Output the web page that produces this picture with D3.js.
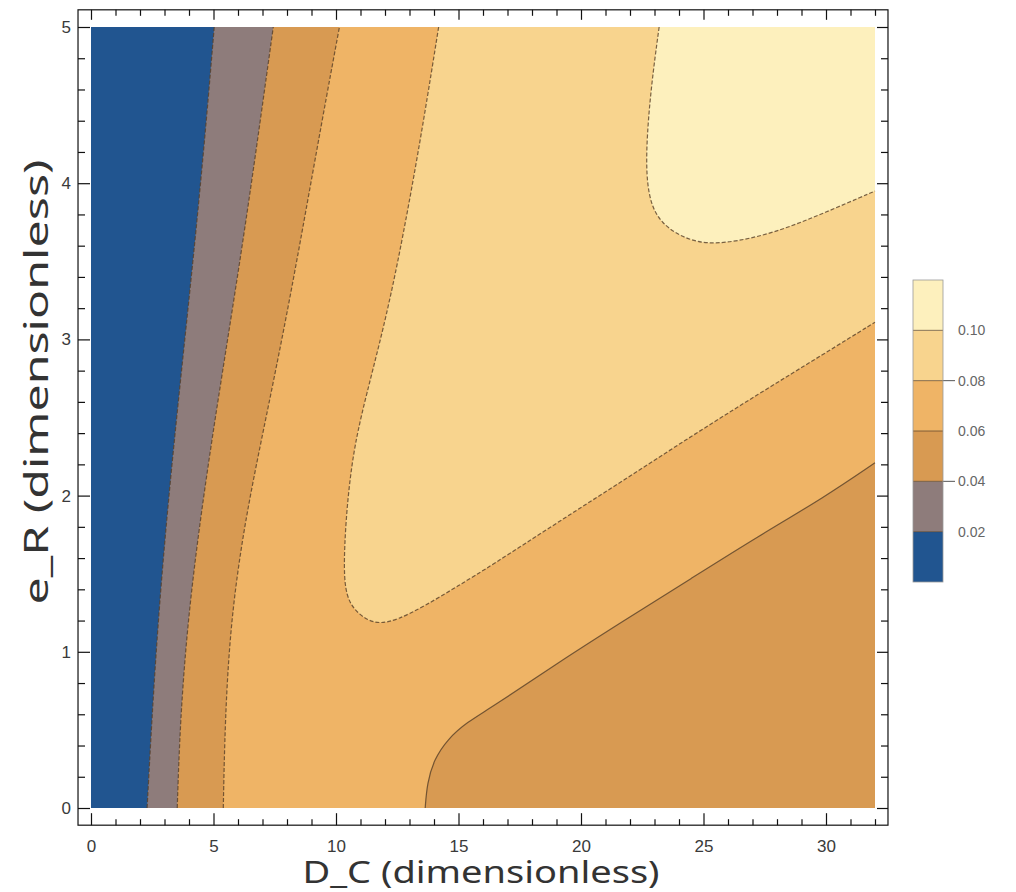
<!DOCTYPE html>
<html>
<head>
<meta charset="utf-8">
<script src="https://cdn.jsdelivr.net/npm/d3@7"></script>
<style>
  body { margin: 0; background: #fff; }
  svg { display: block; }
</style>
</head>
<body>
<svg id="chart" width="1016" height="892"></svg>
<script>
// Contour levels and the fill colour of each band between them (lowest first)
const contourLevels = [0.02, 0.04, 0.06, 0.08, 0.10];
const levelLabels = ["0.02", "0.04", "0.06", "0.08", "0.10"];
const bandColors = ["#215590", "#8e7c7b", "#d89a52", "#efb466", "#f8d48e", "#fdf0bd"];
const legendTickLevels = [0.04, 0.08];

// Axis ticks
const xMajorTicks = [0, 5, 10, 15, 20, 25, 30];
const xTickLabels = ["0", "5", "10", "15", "20", "25", "30"];
const yMajorTicks = [0, 1, 2, 3, 4, 5];
const yTickLabels = ["0", "1", "2", "3", "4", "5"];

// Iso-lines, as [D_C, e_R] pairs
const contour002 = [[2.29,0],[2.48,0.56],[2.74,1.2],[3.08,1.84],[3.48,2.48],[3.91,3.12],[4.33,3.76],[4.71,4.4],[5.03,5]];
const contour004 = [[3.52,0],[3.64,0.56],[3.95,1.2],[4.45,1.84],[5.05,2.48],[5.70,3.12],[6.33,3.76],[6.91,4.4],[7.44,5]];
const contour006Left = [[5.40,0],[5.47,0.56],[5.70,1.2],[6.28,1.84],[7.12,2.48],[7.95,3.12],[8.70,3.76],[9.43,4.4],[10.14,5]];
const contour006Right = [[13.64,0],[13.72,0.16],[14.0,0.31],[14.55,0.44],[15.35,0.55],[16.32,0.64],[19.06,0.93],[21.76,1.2],[24.5,1.47],[27.24,1.74],[29.94,1.99],[32,2.21]];
const contour008 = [[14.19,5],[13.58,4.4],[12.86,3.76],[12.04,3.12],[10.95,2.48],[10.6,2.16],[10.4,1.84],[10.31,1.52],[10.42,1.36],[10.73,1.27],[11.28,1.2],[11.82,1.18],[12.5,1.205],[13.59,1.29],[14.96,1.42],[16.32,1.55],[19.06,1.83],[21.76,2.1],[24.5,2.38],[27.24,2.65],[29.94,2.91],[32,3.11]];
const contour010 = [[23.19,5],[22.86,4.62],[22.64,4.2],[22.72,3.92],[23.2,3.74],[24.5,3.62],[25.85,3.61],[27.89,3.68],[29.94,3.81],[32,3.95]];

const xDomain = [0, 32];
const yDomain = [0, 5];

const svg = d3.select("#chart");

const x = d3.scaleLinear().domain(xDomain).range([91, 875]);
const y = d3.scaleLinear().domain(yDomain).range([808, 27]);

// Frame extends a little beyond the data range
const padX = 0.53, padY = 0.11;
const frame = {
  left: x(xDomain[0] - padX), right: x(xDomain[1] + padX),
  top: y(yDomain[1] + padY), bottom: y(yDomain[0] - padY)
};

const curve = d3.line().x(d => x(d[0])).y(d => y(d[1])).curve(d3.curveBasis);

// Filled area bounded by an iso-line and a run of plot corners
function region(pts, corners) {
  return curve(pts) + corners.map(c => "L" + x(c[0]) + "," + y(c[1])).join("") + "Z";
}

const plot = svg.append("g");

// Base band (0.06–0.08) covers the whole domain
plot.append("rect")
  .attr("x", x(xDomain[0])).attr("y", y(yDomain[1]))
  .attr("width", x(xDomain[1]) - x(xDomain[0]))
  .attr("height", y(yDomain[0]) - y(yDomain[1]))
  .attr("fill", bandColors[3]);

const leftCorners = [[xDomain[0], yDomain[1]], [xDomain[0], yDomain[0]]];
const fills = [
  { pts: contour006Left, corners: leftCorners, band: 2 },
  { pts: contour004, corners: leftCorners, band: 1 },
  { pts: contour002, corners: leftCorners, band: 0 },
  { pts: contour008, corners: [[xDomain[1], yDomain[1]]], band: 4 },
  { pts: contour010, corners: [[xDomain[1], yDomain[1]]], band: 5 },
  { pts: contour006Right, corners: [[xDomain[1], yDomain[0]]], band: 2 }
];

plot.selectAll("path.band").data(fills).join("path")
  .attr("class", "band")
  .attr("d", d => region(d.pts, d.corners))
  .attr("fill", d => bandColors[d.band]);

// Iso-lines
const lines = [
  { pts: contour002, dash: "4,2" },
  { pts: contour004, dash: "4,2" },
  { pts: contour006Left, dash: "4,2" },
  { pts: contour008, dash: "4,2" },
  { pts: contour010, dash: "4,2" },
  { pts: contour006Right, dash: null }
];
plot.selectAll("path.iso").data(lines).join("path")
  .attr("class", "iso")
  .attr("d", d => curve(d.pts))
  .attr("fill", "none")
  .attr("stroke", "#574028")
  .attr("stroke-opacity", 0.8)
  .attr("stroke-width", 1.2)
  .attr("stroke-dasharray", d => d.dash);

// Frame
svg.append("rect")
  .attr("x", frame.left).attr("y", frame.top)
  .attr("width", frame.right - frame.left)
  .attr("height", frame.bottom - frame.top)
  .attr("fill", "none").attr("stroke", "#111").attr("stroke-width", 1.2);

// Ticks pointing inward on all four sides
const xMinor = d3.range(xDomain[0], xDomain[1] + 1, 1).filter(v => v % 5 !== 0);
const yMinor = d3.range(1, 26, 1).map(v => v / 5).filter(v => Math.abs(v - Math.round(v)) > 1e-6);

function styleAxis(g) {
  g.select(".domain").remove();
  g.selectAll(".tick line").attr("stroke", "#111").attr("stroke-width", 1.2);
  g.selectAll(".tick text")
    .attr("font-family", "'Liberation Sans', Arial, sans-serif")
    .attr("font-size", 17).attr("fill", "#3a3a3a");
}

const fmtX = (d) => xTickLabels[xMajorTicks.indexOf(d)];
const fmtY = (d) => yTickLabels[yMajorTicks.indexOf(d)];

svg.append("g").attr("transform", `translate(0,${frame.bottom})`)
  .call(d3.axisBottom(x).tickValues(xMajorTicks).tickSize(-12).tickPadding(15).tickFormat(fmtX))
  .call(styleAxis);
svg.append("g").attr("transform", `translate(0,${frame.bottom})`)
  .call(d3.axisBottom(x).tickValues(xMinor).tickSize(-6).tickFormat(""))
  .call(styleAxis);
svg.append("g").attr("transform", `translate(0,${frame.top})`)
  .call(d3.axisTop(x).tickValues(xMajorTicks).tickSize(-10).tickFormat(""))
  .call(styleAxis);
svg.append("g").attr("transform", `translate(0,${frame.top})`)
  .call(d3.axisTop(x).tickValues(xMinor).tickSize(-6).tickFormat(""))
  .call(styleAxis);

svg.append("g").attr("transform", `translate(${frame.left},0)`)
  .call(d3.axisLeft(y).tickValues(yMajorTicks).tickSize(-12).tickPadding(7).tickFormat(fmtY))
  .call(styleAxis);
svg.append("g").attr("transform", `translate(${frame.left},0)`)
  .call(d3.axisLeft(y).tickValues(yMinor).tickSize(-7).tickFormat(""))
  .call(styleAxis);
svg.append("g").attr("transform", `translate(${frame.right},0)`)
  .call(d3.axisRight(y).tickValues(yMajorTicks).tickSize(-11).tickFormat(""))
  .call(styleAxis);
svg.append("g").attr("transform", `translate(${frame.right},0)`)
  .call(d3.axisRight(y).tickValues(yMinor).tickSize(-7).tickFormat(""))
  .call(styleAxis);

// Axis titles
const titleFont = "'Noto Sans', 'Open Sans', sans-serif";
svg.append("text")
  .attr("x", 481).attr("y", 883)
  .attr("text-anchor", "middle")
  .attr("font-family", titleFont).attr("font-size", 31)
  .attr("textLength", 357).attr("lengthAdjust", "spacingAndGlyphs")
  .attr("fill", "#333")
  .text("D_C (dimensionless)");
svg.append("text")
  .attr("transform", `translate(48,382) rotate(-90)`)
  .attr("text-anchor", "middle")
  .attr("font-family", titleFont).attr("font-size", 33)
  .attr("textLength", 445).attr("lengthAdjust", "spacingAndGlyphs")
  .attr("fill", "#333")
  .text("e_R (dimensionless)");

// Colour bar legend
const legendScale = d3.scaleLinear().domain([0, 0.12]).range([582, 280]);
const bandEdges = [0, ...contourLevels, 0.12];
const legend = svg.append("g");
const barX = 913, barW = 30;
legend.selectAll("rect.swatch").data(bandColors).join("rect")
  .attr("class", "swatch")
  .attr("x", barX).attr("width", barW)
  .attr("y", (d, i) => legendScale(bandEdges[i + 1]))
  .attr("height", (d, i) => legendScale(bandEdges[i]) - legendScale(bandEdges[i + 1]))
  .attr("fill", d => d);
legend.selectAll("line.edge").data(contourLevels).join("line")
  .attr("class", "edge")
  .attr("x1", barX).attr("x2", barX + barW)
  .attr("y1", d => legendScale(d)).attr("y2", d => legendScale(d))
  .attr("stroke", "#574028").attr("stroke-opacity", 0.7).attr("stroke-width", 1);
legend.selectAll("line.tick").data(legendTickLevels).join("line")
  .attr("class", "tick")
  .attr("x1", barX + barW).attr("x2", barX + barW + 12)
  .attr("y1", d => legendScale(d)).attr("y2", d => legendScale(d))
  .attr("stroke", "#555").attr("stroke-width", 1);
legend.append("rect")
  .attr("x", barX).attr("y", legendScale(0.12))
  .attr("width", barW).attr("height", legendScale(0) - legendScale(0.12))
  .attr("fill", "none").attr("stroke", "#999").attr("stroke-width", 0.8);
legend.selectAll("text").data(contourLevels).join("text")
  .attr("x", 958).attr("y", d => legendScale(d) + 5)
  .attr("font-family", "'Liberation Sans', Arial, sans-serif")
  .attr("font-size", 14).attr("fill", "#666")
  .text((d, i) => levelLabels[i]);
</script>
</body>
</html>
